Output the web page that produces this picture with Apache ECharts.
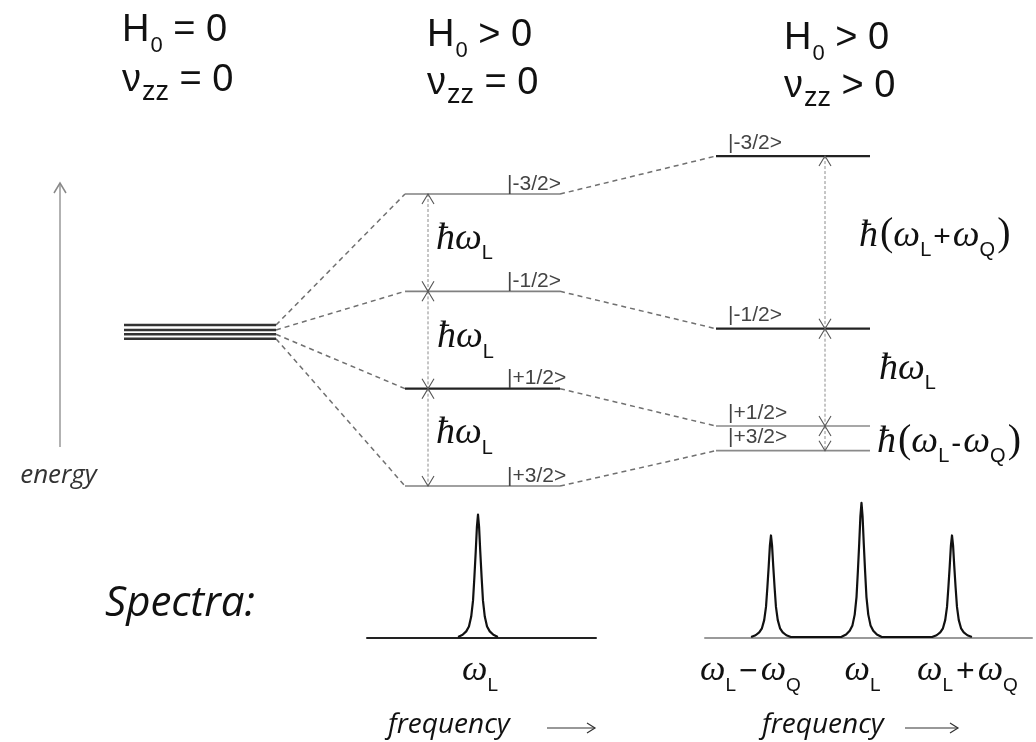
<!DOCTYPE html>
<html>
<head>
<meta charset="utf-8">
<script src="https://cdn.jsdelivr.net/npm/echarts@6/dist/echarts.min.js"></script>
<style>
  html, body { margin: 0; padding: 0; background: #fff; }
  #chart { width: 1036px; height: 742px; }
</style>
</head>
<body>
<div id="chart"></div>
<script>
// ---- data -------------------------------------------------------------
// spin states of an I = 3/2 nucleus, from the highest level down
const states = ['|-3/2>', '|-1/2>', '|+1/2>', '|+3/2>'];
// level energies in units of ħω_L
const degenerateLevels = [0.154, 0.103, 0.059, 0.013];   // H0 = 0, drawn as a stacked bundle
const zeemanLevels = [1.5, 0.5, -0.5, -1.5];              // H0 > 0, vzz = 0
const quadLevels = [1.89, 0.116, -0.884, -1.137];         // H0 > 0, vzz > 0
// splittings between neighbouring levels
const zeemanGapLabels = ['ħω_L', 'ħω_L', 'ħω_L'];
const quadGapLabels = ['ħ(ω_L+ω_Q)', 'ħω_L', 'ħ(ω_L-ω_Q)'];
// column headings
const titleLines = [
  ['H_0 = 0', 'ν_{zz} = 0'],
  ['H_0 > 0', 'ν_{zz} = 0'],
  ['H_0 > 0', 'ν_{zz} > 0']
];
// spectra: peak positions (offset from ω_L in units of ω_Q) and intensities
const spectrum1Peaks = [0];
const spectrum1Heights = [1.0];
const spectrum1Labels = ['ω_L'];
const spectrum2Peaks = [-1, 0, 1];
const spectrum2Heights = [0.83, 1.095, 0.83];
const spectrum2Labels = ['ω_L−ω_Q', 'ω_L', 'ω_L+ω_Q'];
// half of one resonance line: distance from the centre and relative intensity
const lineShapeOffsets = [0, 0.012, 0.025, 0.04, 0.055, 0.075, 0.1, 0.13, 0.17, 0.22];
const lineShapeValues = [1, 0.9, 0.7, 0.49, 0.3, 0.17, 0.09, 0.05, 0.022, 0.005];

// ---- layout -----------------------------------------------------------
const columns = [
  { levels: degenerateLevels, x: [124, 276], ketX: null, ketDy: 0,
    style: [{ c: '#333', w: 2.6 }, { c: '#333', w: 2.6 }, { c: '#333', w: 2.6 }, { c: '#333', w: 2.6 }] },
  { levels: zeemanLevels, x: [405, 560], ketX: 507, ketDy: -3,
    style: [{ c: '#808080', w: 1.6 }, { c: '#808080', w: 1.6 }, { c: '#222', w: 2.4 }, { c: '#808080', w: 1.6 }] },
  { levels: quadLevels, x: [716, 870], ketX: 728, ketDy: -6,
    style: [{ c: '#222', w: 2.2 }, { c: '#222', w: 2.2 }, { c: '#8a8a8a', w: 1.6 }, { c: '#8a8a8a', w: 1.6 }] }
];
const gapLayout = [
  null,
  { arrowX: 428, labels: zeemanGapLabels, labelX: [436, 437, 436], labelDy: [9, 10, 9] },
  { arrowX: 825, labels: quadGapLabels, labelX: [859, 879, 877], labelDy: [6, 4.5, 16.5] }
];
const titleX = [122, 427, 784];
const titleBaselines = [[44, 94], [49, 97], [52, 100]];
const spectrumLayout = [
  { labelDx: [-16], textDx: 21, arrowDx: [180, 228] },
  { labelDx: [-71, -17, -35], textDx: 57, arrowDx: [200, 253] }
];

// ---- text helpers -----------------------------------------------------
// distance from the alphabetic baseline up to the canvas 'middle' line, per em
const FONT_MIDDLE = { 'Liberation Sans': 0.347, 'Liberation Serif': 0.338, 'Open Sans': 0.25, 'DejaVu Sans': 0.346 };
const measureCtx = document.createElement('canvas').getContext('2d');
function fontStr(f) {
  return (f.style || 'normal') + ' normal ' + f.size + 'px "' + f.family + '"';
}
function textWidth(s, f) {
  measureCtx.font = fontStr(f);
  return measureCtx.measureText(s).width;
}
// lay out a run of text pieces on a common baseline
function runElements(parts, x, baseline, color, anchor) {
  const els = [];
  let total = 0;
  parts.forEach(p => { total += (p.gap || 0) + textWidth(p.text, p.font); });
  let cx = anchor === 'center' ? x - total / 2 : x;
  parts.forEach(p => {
    cx += p.gap || 0;
    els.push({
      type: 'text', silent: true,
      style: {
        text: p.text, x: cx,
        y: baseline + (p.dy || 0) - FONT_MIDDLE[p.font.family] * p.font.size,
        font: fontStr(p.font), fill: color, align: 'left', verticalAlign: 'middle'
      }
    });
    cx += textWidth(p.text, p.font);
  });
  return els;
}
// 'ħ(ω_L+ω_Q)' -> italic symbols with sans subscripts
function mathParts(str, o) {
  const parts = [];
  for (let i = 0; i < str.length; i++) {
    const ch = str[i];
    if (ch === '_') {
      parts.push({ text: str[++i], font: { family: 'Liberation Sans', size: o.subSize }, dy: o.subDy });
    } else if ('()'.includes(ch)) {
      parts.push({ text: ch, font: { family: 'Liberation Serif', size: o.parenSize }, gap: o.gap });
    } else if ('+-−'.includes(ch)) {
      parts.push({ text: ch, font: { family: 'Liberation Sans', size: o.opSize }, gap: o.gap });
    } else {
      parts.push({ text: ch, font: { family: 'Liberation Serif', size: o.size, style: 'italic' }, gap: i > 0 && '+-−'.includes(str[i - 1]) ? o.gap : 0 });
    }
  }
  return parts;
}
function titleParts(str) {
  const m = str.match(/^(.)_\{?([^} ]+)\}?(.*)$/);
  const wide = m[2].length > 1;
  return [
    { text: m[1], font: { family: 'Liberation Sans', size: 38 } },
    { text: m[2], font: { family: 'Liberation Sans', size: wide ? 27 : 22 }, dy: wide ? 8 : 10, gap: 1 },
    { text: m[3], font: { family: 'Liberation Sans', size: 38 } }
  ];
}
function chevron(tip, dir, len, half) {
  const nx = -dir[1], ny = dir[0];
  return [
    [tip[0] - dir[0] * len + nx * half, tip[1] - dir[1] * len + ny * half],
    tip,
    [tip[0] - dir[0] * len - nx * half, tip[1] - dir[1] * len - ny * half]
  ];
}

const gapLabelOpts = { size: 38, subSize: 20, subDy: 9, parenSize: 40, opSize: 30, gap: 2 };
const specLabelOpts = { size: 36, subSize: 19, subDy: 9, parenSize: 36, opSize: 32, gap: 3 };
const ketFont = { family: 'Liberation Sans', size: 21 };

// ---- series data built from the arrays above --------------------------
const levelData = [];
columns.forEach((col, ci) => col.levels.forEach((e, si) => levelData.push([ci, si, e])));

const connectorData = [];
states.forEach((s, si) => {
  connectorData.push([columns[0].x[1], degenerateLevels[si], columns[1].x[0], zeemanLevels[si]]);
  connectorData.push([columns[1].x[1], zeemanLevels[si], columns[2].x[0], quadLevels[si]]);
});

const gapData = [];
[1, 2].forEach(ci => {
  const lv = columns[ci].levels;
  for (let i = 0; i < lv.length - 1; i++) gapData.push([ci, i, lv[i], lv[i + 1]]);
});

function spectrumPoints(peaks, heights) {
  const pts = [];
  peaks.forEach((p, k) => {
    for (let i = lineShapeOffsets.length - 1; i > 0; i--) pts.push([p - lineShapeOffsets[i], heights[k] * lineShapeValues[i]]);
    for (let i = 0; i < lineShapeOffsets.length; i++) pts.push([p + lineShapeOffsets[i], heights[k] * lineShapeValues[i]]);
  });
  return pts;
}

function spectrumAnnotations(si, labels) {
  const lay = spectrumLayout[si];
  return function (params, api) {
    const i = params.dataIndex;
    const p = api.coord([api.value(0), 0]);
    const children = runElements(mathParts(labels[i], specLabelOpts), p[0] + lay.labelDx[i], p[1] + 45.5, '#111');
    if (i === 0) {
      const cs = params.coordSys;
      const base = cs.y + cs.height;
      children.push(...runElements([{ text: 'frequency', font: { family: 'Open Sans', size: 28, style: 'italic' } }],
        cs.x + lay.textDx, base + 94.5, '#111'));
      const ax0 = cs.x + lay.arrowDx[0], ax1 = cs.x + lay.arrowDx[1], ay = base + 90.5;
      children.push({ type: 'line', silent: true, shape: { x1: ax0, y1: ay, x2: ax1, y2: ay }, style: { stroke: '#333', lineWidth: 1.2 } });
      children.push({ type: 'polyline', silent: true, shape: { points: chevron([ax1, ay], [1, 0], 8, 5) }, style: { stroke: '#333', lineWidth: 1.2, fill: null } });
    }
    return { type: 'group', children };
  };
}

// ---- chart ------------------------------------------------------------
const chart = echarts.init(document.getElementById('chart'), null, { renderer: 'canvas' });

const hiddenAxis = { show: false };
const titleGraphics = [];
titleLines.forEach((lines, c) => {
  lines.forEach((ln, r) => {
    titleGraphics.push(...runElements(titleParts(ln), titleX[c], titleBaselines[c][r], '#111'));
  });
});
titleGraphics.push(...runElements([{ text: 'Spectra:', font: { family: 'Open Sans', size: 42, style: 'italic' } }], 105, 615, '#111'));

chart.setOption({
  animation: false,
  backgroundColor: '#fff',
  grid: [
    { left: 0, top: 194, width: 1036, height: 292 },
    { left: 367, top: 490, width: 229, height: 147.5 },
    { left: 705, top: 490, width: 327, height: 147.5 }
  ],
  xAxis: [
    { type: 'value', gridIndex: 0, min: 0, max: 1036, ...hiddenAxis },
    { type: 'value', gridIndex: 1, min: -1.2265, max: 1.3039,
      axisLine: { show: true, lineStyle: { color: '#222', width: 2 } },
      axisTick: { show: false }, axisLabel: { show: false }, splitLine: { show: false } },
    { type: 'value', gridIndex: 2, min: -1.729, max: 1.884,
      axisLine: { show: true, lineStyle: { color: '#9a9a9a', width: 2 } },
      axisTick: { show: false }, axisLabel: { show: false }, splitLine: { show: false } }
  ],
  yAxis: [
    { type: 'value', gridIndex: 0, min: -1.5, max: 1.5, ...hiddenAxis },
    { type: 'value', gridIndex: 1, min: 0, max: 1.2, ...hiddenAxis },
    { type: 'value', gridIndex: 2, min: 0, max: 1.2, ...hiddenAxis }
  ],
  graphic: { elements: titleGraphics },
  series: [
    {
      // energy direction indicator
      type: 'custom', name: 'energy', xAxisIndex: 0, yAxisIndex: 0, silent: true,
      data: [[60, -1.099, 1.613]],
      renderItem(params, api) {
        const a = api.coord([api.value(0), api.value(1)]);
        const b = api.coord([api.value(0), api.value(2)]);
        return {
          type: 'group', children: [
            { type: 'line', shape: { x1: a[0], y1: a[1], x2: b[0], y2: b[1] }, style: { stroke: '#999', lineWidth: 1.5 } },
            { type: 'polyline', shape: { points: chevron(b, [0, -1], 10, 6) }, style: { stroke: '#888', lineWidth: 1.5, fill: null } },
            ...runElements([{ text: 'energy', font: { family: 'Open Sans', size: 26, style: 'italic' } }], a[0] - 1.5, a[1] + 35, '#333', 'center')
          ]
        };
      }
    },
    {
      // dashed correlation lines between the columns
      type: 'custom', name: 'connectors', xAxisIndex: 0, yAxisIndex: 0, silent: true,
      data: connectorData,
      renderItem(params, api) {
        const a = api.coord([api.value(0), api.value(1)]);
        const b = api.coord([api.value(2), api.value(3)]);
        return { type: 'line', shape: { x1: a[0], y1: a[1], x2: b[0], y2: b[1] },
          style: { stroke: '#707070', lineWidth: 1.5, lineDash: [5, 4] } };
      }
    },
    {
      // energy levels with their kets
      type: 'custom', name: 'levels', xAxisIndex: 0, yAxisIndex: 0, silent: true,
      data: levelData,
      renderItem(params, api) {
        const ci = api.value(0), si = api.value(1), e = api.value(2);
        const col = columns[ci];
        const a = api.coord([col.x[0], e]), b = api.coord([col.x[1], e]);
        const st = col.style[si];
        const children = [{ type: 'line', shape: { x1: a[0], y1: a[1], x2: b[0], y2: b[1] }, style: { stroke: st.c, lineWidth: st.w } }];
        if (col.ketX != null) {
          const k = api.coord([col.ketX, e]);
          children.push(...runElements([{ text: states[si], font: ketFont }], k[0], k[1] + col.ketDy, '#444'));
        }
        return { type: 'group', children };
      }
    },
    {
      // splitting arrows and their labels
      type: 'custom', name: 'gaps', xAxisIndex: 0, yAxisIndex: 0, silent: true,
      data: gapData,
      renderItem(params, api) {
        const ci = api.value(0), i = api.value(1);
        const g = gapLayout[ci];
        const top = api.coord([g.arrowX, api.value(2)]);
        const bot = api.coord([g.arrowX, api.value(3)]);
        const mid = (top[1] + bot[1]) / 2;
        const lx = api.coord([g.labelX[i], 0])[0];
        return {
          type: 'group', children: [
            { type: 'line', shape: { x1: top[0], y1: top[1], x2: bot[0], y2: bot[1] }, style: { stroke: '#8c8c8c', lineWidth: 1, lineDash: [3, 2] } },
            { type: 'polyline', shape: { points: chevron(top, [0, -1], 10, 6) }, style: { stroke: '#555', lineWidth: 1.1, fill: null } },
            { type: 'polyline', shape: { points: chevron(bot, [0, 1], 10, 6) }, style: { stroke: '#555', lineWidth: 1.1, fill: null } },
            ...runElements(mathParts(g.labels[i], gapLabelOpts), lx, mid + g.labelDy[i], '#111')
          ]
        };
      }
    },
    {
      type: 'line', name: 'spectrum1', xAxisIndex: 1, yAxisIndex: 1,
      data: spectrumPoints(spectrum1Peaks, spectrum1Heights),
      showSymbol: false, smooth: false, silent: true,
      lineStyle: { color: '#111', width: 2.2, join: 'round' }
    },
    {
      type: 'line', name: 'spectrum2', xAxisIndex: 2, yAxisIndex: 2,
      data: spectrumPoints(spectrum2Peaks, spectrum2Heights),
      showSymbol: false, smooth: false, silent: true,
      lineStyle: { color: '#111', width: 2.2, join: 'round' }
    },
    {
      type: 'custom', name: 'spectrum1Labels', xAxisIndex: 1, yAxisIndex: 1, silent: true,
      data: spectrum1Peaks.map(p => [p]),
      renderItem: spectrumAnnotations(0, spectrum1Labels)
    },
    {
      type: 'custom', name: 'spectrum2Labels', xAxisIndex: 2, yAxisIndex: 2, silent: true,
      data: spectrum2Peaks.map(p => [p]),
      renderItem: spectrumAnnotations(1, spectrum2Labels)
    }
  ]
});
</script>
</body>
</html>
